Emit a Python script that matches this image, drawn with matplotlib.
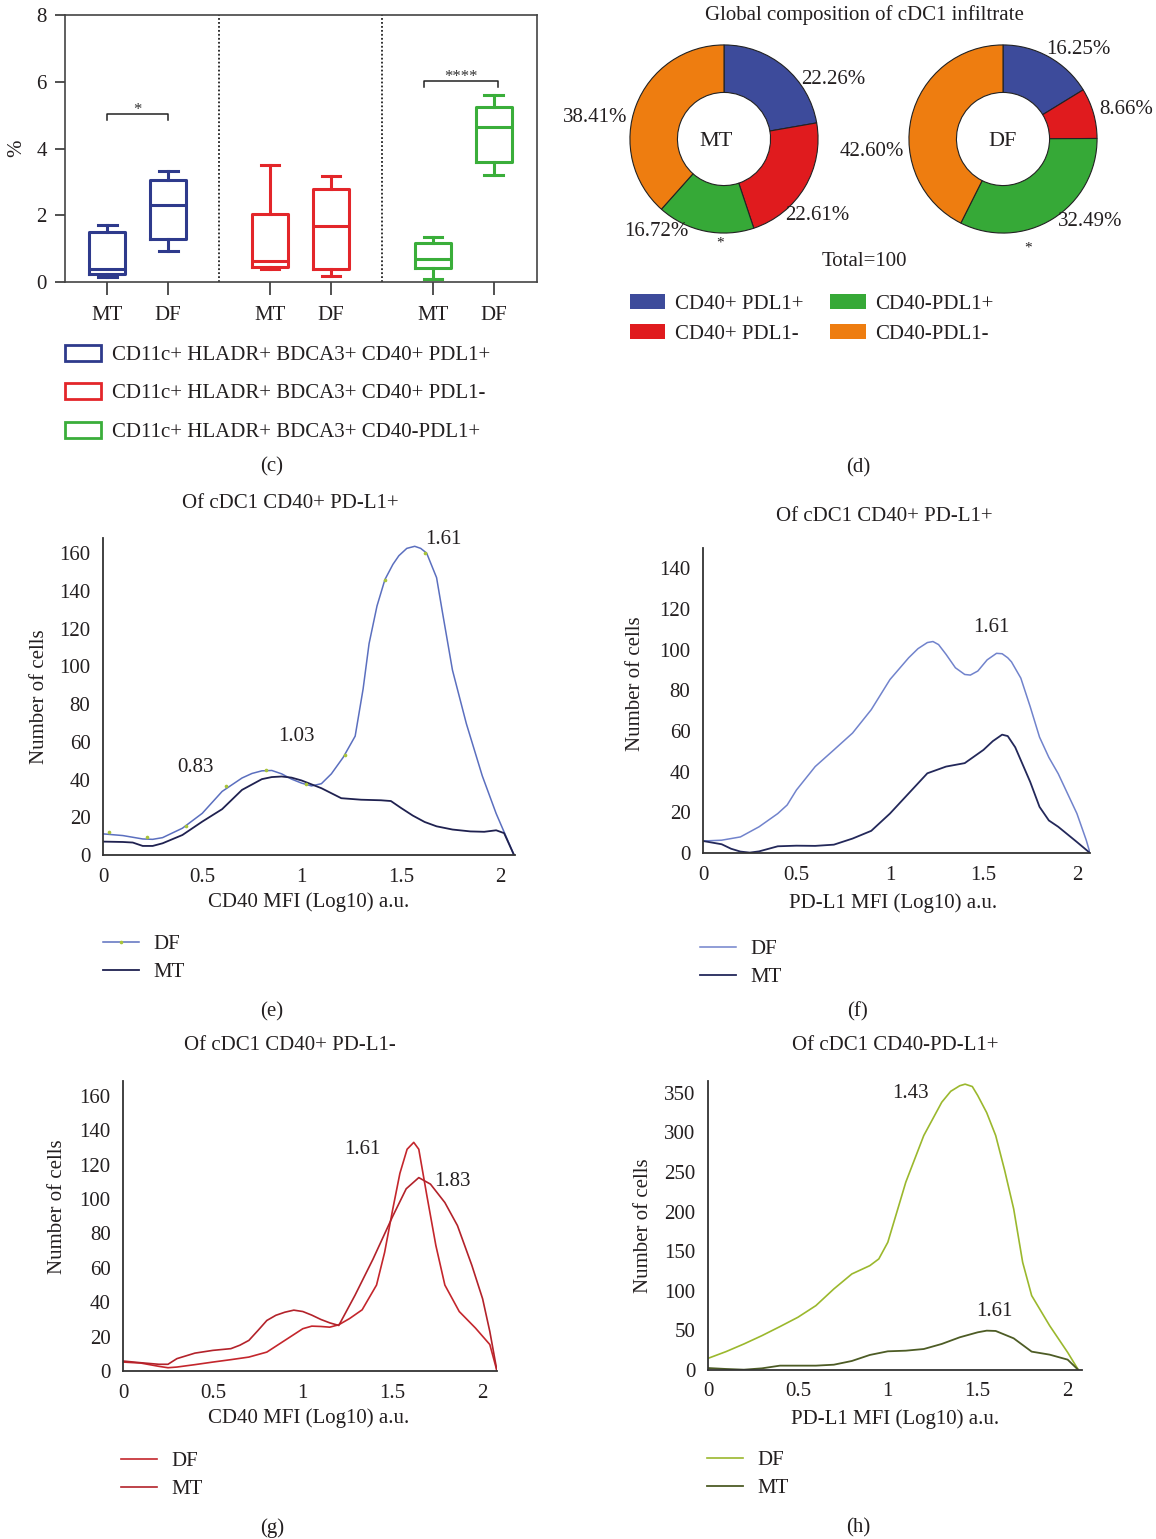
import numpy as np
import matplotlib.pyplot as plt
from matplotlib.patches import Patch
from matplotlib.lines import Line2D

W, H = 1156, 1539
plt.rcParams['font.family'] = ['Liberation Serif', 'DejaVu Serif']
plt.rcParams['font.size'] = 15
TXT = '#231f20'

# ---- (c) box plot data: whislo, q1, med, q3, whishi
box_labels = ['CD11c+ HLADR+ BDCA3+ CD40+ PDL1+',
              'CD11c+ HLADR+ BDCA3+ CD40+ PDL1-',
              'CD11c+ HLADR+ BDCA3+ CD40-PDL1+']
box_colors = ['#2e3a8c', '#e3262a', '#3aae3a']
box_mt = [[0.16, 0.23, 0.38, 1.50, 1.70],
          [0.38, 0.45, 0.63, 2.05, 3.50],
          [0.08, 0.42, 0.68, 1.16, 1.36]]
box_df = [[0.93, 1.30, 2.30, 3.07, 3.32],
          [0.18, 0.38, 1.68, 2.78, 3.18],
          [3.20, 3.60, 4.65, 5.25, 5.59]]
sig_group = [0, 2]
sig_text = ['*', '****']
sig_y = [5.02, 6.01]

# ---- (d) donut data
donut_names = ['MT', 'DF']
slice_labels = ['CD40+ PDL1+', 'CD40+ PDL1-', 'CD40-PDL1+', 'CD40-PDL1-']
slice_colors = ['#3d4b9b', '#e01b1e', '#36a937', '#ee7d10']
mt_share = [22.26, 22.61, 16.72, 38.41]
df_share = [16.25, 8.66, 32.49, 42.60]

# ---- (e) CD40 MFI, CD40+ PD-L1+
e_x_df = [0, 0.1, 0.2, 0.25, 0.3, 0.4, 0.5, 0.6, 0.7, 0.75, 0.8, 0.85, 0.9, 0.95, 1.0, 1.05, 1.1, 1.15,
          1.21, 1.27, 1.31, 1.34, 1.38, 1.42, 1.46, 1.49, 1.53, 1.57, 1.6, 1.63, 1.68, 1.71, 1.76, 1.83,
          1.91, 1.98, 2.07]
e_df = [11.2, 10.3, 8.5, 8.3, 9.2, 14.2, 22.1, 33.7, 40.8, 43.2, 44.6, 44.8, 43, 40.2, 38.1, 36.6, 37.8, 43,
        51.8, 63, 88, 112, 132, 146, 154, 158.6, 162.5, 163.6, 162.5, 160, 147, 128.4, 98, 69.6,
        42, 22, 0]
e_dot_x = [0.03, 0.22, 0.42, 0.62, 0.82, 1.02, 1.22, 1.42, 1.62]
e_dot_y = [12, 9.6, 15.5, 36.5, 45, 37.5, 53, 145.6, 160]
e_x_mt = [0, 0.1, 0.15, 0.2, 0.25, 0.3, 0.4, 0.5, 0.6, 0.7, 0.8, 0.85, 0.9, 0.95, 1.0, 1.1, 1.2, 1.3,
          1.4, 1.45, 1.5, 1.56, 1.62, 1.68, 1.76, 1.85, 1.92, 1.98, 2.02, 2.07]
e_mt = [7.1, 6.9, 6.6, 4.8, 4.8, 6.2, 10.6, 17.7, 24.3, 34.5, 40.2, 41.3, 41.6, 41, 39.5, 35.4, 30.1, 29.3,
        29, 28.6, 25, 20.9, 17.5, 15.2, 13.5, 12.5, 12.3, 13.1, 11.6, 0]

# ---- (f) PD-L1 MFI, CD40+ PD-L1+
f_x_df = [0, 0.1, 0.2, 0.3, 0.4, 0.45, 0.5, 0.6, 0.7, 0.8, 0.9, 1.0, 1.1, 1.15, 1.2, 1.23, 1.26, 1.3,
          1.35, 1.4, 1.43, 1.47, 1.52, 1.57, 1.6, 1.63, 1.65, 1.7, 1.75, 1.8, 1.85, 1.9, 2.0, 2.05, 2.07]
f_df = [5.9, 6.3, 7.9, 12.9, 19.4, 23.6, 31, 42.5, 50.7, 59, 70.5, 85.3, 96, 100.5, 103.5, 104, 102.5, 97.7,
        91.1, 87.8, 87.5, 89.5, 95, 98.2, 98, 96, 94, 86, 72, 57, 47, 39, 19.4, 6.3, 0]
f_x_mt = [0, 0.1, 0.15, 0.2, 0.25, 0.3, 0.4, 0.5, 0.6, 0.7, 0.8, 0.9, 1.0, 1.1, 1.2, 1.3, 1.4, 1.5,
          1.55, 1.6, 1.63, 1.67, 1.75, 1.8, 1.85, 1.9, 2.0, 2.07]
f_mt = [5.9, 4.3, 2.1, 0.7, 0.2, 0.8, 3.3, 3.6, 3.5, 4.1, 7.1, 10.9, 19.4, 29.3, 39.2, 42.5, 44.2, 50.7,
        55, 58.2, 57.5, 52, 35, 22.7, 16, 12.9, 5.4, 0]

# ---- (g) CD40 MFI, CD40+ PD-L1-
g_x_a = [0, 0.1, 0.2, 0.25, 0.3, 0.4, 0.5, 0.6, 0.7, 0.8, 0.9, 1.0, 1.05, 1.1, 1.15, 1.2, 1.26, 1.33,
         1.41, 1.455, 1.5, 1.54, 1.58, 1.617, 1.645, 1.69, 1.74, 1.79, 1.87, 1.96, 2.04, 2.08]
g_a = [5.2, 4.6, 2.7, 1.9, 2.3, 3.7, 5.2, 6.6, 8.1, 11, 17.8, 24.6, 26.1, 25.9, 25.5, 26.9, 30.5, 35.6,
       50, 69, 94, 115, 129, 133, 129, 102, 73, 50, 34.6, 25, 15.4, 0]
g_x_b = [0, 0.1, 0.2, 0.25, 0.3, 0.4, 0.5, 0.6, 0.65, 0.7, 0.75, 0.8, 0.85, 0.9, 0.95, 1.0, 1.05, 1.1,
         1.15, 1.2, 1.29, 1.39, 1.5, 1.575, 1.645, 1.71, 1.79, 1.86, 1.94, 2.0, 2.04, 2.08]
g_b = [5.8, 4.8, 3.9, 3.9, 7.2, 10.4, 12, 13, 15, 17.8, 23.5, 29.4, 32.4, 34.2, 35.4, 34.6, 32.5, 30,
       28, 26.5, 44, 65, 90, 106, 112.5, 108.7, 98, 84.6, 61.5, 42, 23, 0]

# ---- (h) PD-L1 MFI, CD40-PD-L1+
h_x_df = [0, 0.1, 0.2, 0.3, 0.4, 0.5, 0.6, 0.7, 0.8, 0.9, 0.95, 1.0, 1.05, 1.1, 1.2, 1.3, 1.35, 1.4,
          1.43, 1.47, 1.5, 1.55, 1.6, 1.65, 1.7, 1.75, 1.8, 1.9, 2.0, 2.06]
h_df = [14.7, 23.2, 32.9, 43.4, 54.8, 66.6, 81.3, 102.4, 121.3, 131.8, 140.3, 161.3, 199.2, 237.2, 296.1,
        338.2, 352, 359, 361, 358, 346.7, 325, 296.1, 252, 203.5, 136, 94, 56, 22.3, 0]
h_x_mt = [0, 0.1, 0.2, 0.3, 0.4, 0.5, 0.6, 0.7, 0.8, 0.9, 1.0, 1.1, 1.2, 1.3, 1.4, 1.5, 1.55, 1.6,
          1.7, 1.8, 1.9, 2.0, 2.06]
h_mt = [2.5, 1.3, 0.4, 2.1, 5.5, 5.5, 5.5, 6.7, 11.4, 19, 23.6, 24.4, 26.5, 32.9, 41.3, 47.6, 49.7, 49.3,
        40, 23.2, 19.4, 13.1, 0]


def px(x, y):
    return x / W, 1 - y / H


def add_ax(fig, l, t, r, b):
    return fig.add_axes([l / W, 1 - b / H, (r - l) / W, (b - t) / H])


def ftext(fig, x, y, s, **kw):
    kw.setdefault('ha', 'center')
    kw.setdefault('va', 'center')
    kw.setdefault('color', TXT)
    fig.text(*px(x, y), s, **kw)


fig = plt.figure(figsize=(W / 100, H / 100), dpi=100)

# ================= (c) =================
ax = add_ax(fig, 65, 15, 537, 282)
gap = 2.672
stats, pos, cols = [], [], []
for i in range(3):
    for j, row in enumerate([box_mt[i], box_df[i]]):
        lo, q1, med, q3, hi = row
        stats.append(dict(whislo=lo, q1=q1, med=med, q3=q3, whishi=hi, fliers=[]))
        pos.append(1 + j + i * gap)
        cols.append(box_colors[i])
for k in range(len(stats)):
    c = cols[k]
    ax.bxp([stats[k]], positions=[pos[k]], widths=0.59, capwidths=0.31, showfliers=False,
           boxprops=dict(color=c, lw=2.2), whiskerprops=dict(color=c, lw=2.2),
           capprops=dict(color=c, lw=2.2), medianprops=dict(color=c, lw=2.2))
ax.set_xlim(0.31, 8.05)
ax.set_ylim(0, 8)
ax.set_xticks(pos)
ax.set_xticklabels(['MT', 'DF'] * 3, color=TXT)
ax.set_yticks([0, 2, 4, 6, 8])
ax.tick_params(axis='x', length=9, width=1.2, color='#333', pad=8, labelsize=15)
ax.tick_params(axis='y', length=7, width=1.2, color='#333', pad=6, labelsize=15, labelcolor=TXT)
for s in ax.spines.values():
    s.set_color('#444')
    s.set_linewidth(1.2)
for i in range(1, 3):
    ax.axvline(1 + (i - 1) * gap + 1.84, color='#222', ls=(0, (1, 1.2)), lw=1.3)
for g, t, y in zip(sig_group, sig_text, sig_y):
    x0 = 1 + g * gap - (0.15 if g == 2 else 0)
    x1 = 2 + g * gap + (0.07 if g == 2 else 0)
    ax.plot([x0, x0, x1, x1], [y - 0.16, y, y, y - 0.16], color='#222', lw=1.1)
    ax.text((x0 + x1) / 2, y + 0.02, t, ha='center', va='baseline', fontsize=12, color='#333')
ftext(fig, 17, 148, '%', rotation=90)
handles = [Patch(facecolor='white', edgecolor=c, lw=2) for c in box_colors]
fig.legend(handles, box_labels, loc='upper left', bbox_to_anchor=px(46, 326), frameon=False,
           handlelength=1.75, handleheight=0.8, handletextpad=0.5, labelspacing=0.88,
           fontsize=15, labelcolor=TXT)
ftext(fig, 272, 467, '(c)')

# ================= (d) =================
centers = [(724, 139), (1003, 139)]
r = 95
for name, share, (cx, cy) in zip(donut_names, [mt_share, df_share], centers):
    dax = add_ax(fig, cx - r, cy - r, cx + r, cy + r)
    dax.pie(share, colors=slice_colors, startangle=90, counterclock=False, radius=1,
            wedgeprops=dict(width=0.505, edgecolor='#222', linewidth=0.8))
    dax.set_xlim(-1.01, 1.01)
    dax.set_ylim(-1.01, 1.01)
    dax.set_aspect('equal')
    dax.axis('off')
    ftext(fig, cx - (8 if name == 'MT' else 0), cy + 2, name, fontsize=16)

mt_lbl_pos = [(833, 80), (817, 216), (656, 231), (595, 117)]
df_lbl_pos = [(1078, 50), (1126, 110), (1090, 221), (872, 152)]
for share, lp in zip([mt_share, df_share], [mt_lbl_pos, df_lbl_pos]):
    for v, (x, y) in zip(share, lp):
        ftext(fig, x, y, f'{v:.2f}%', fontsize=15)
ftext(fig, 720, 243, '*', fontsize=11)
ftext(fig, 1028, 248, '*', fontsize=11)
ftext(fig, 864, 15, 'Global composition of cDC1 infiltrate', fontsize=15)
ftext(fig, 864, 261, 'Total=100', fontsize=15)
handles = [Patch(facecolor=c, edgecolor='none') for c in slice_colors]
fig.legend(handles, slice_labels, ncol=2, loc='upper left', bbox_to_anchor=px(611, 275), frameon=False,
           handlelength=1.7, handleheight=0.75, handletextpad=0.45, labelspacing=0.5,
           columnspacing=1.3, fontsize=15, labelcolor=TXT)
ftext(fig, 858, 468, '(d)')


# ================= curves =================
def curve_ax(box, ymax, yticks, xmax):
    a = add_ax(fig, *box)
    a.set_xlim(0, xmax)
    a.set_ylim(0, ymax)
    a.set_xticks([0, 0.5, 1, 1.5, 2])
    a.set_xticklabels(['0', '0.5', '1', '1.5', '2'])
    a.set_yticks(yticks)
    a.tick_params(length=0, pad=9, labelsize=15, labelcolor=TXT)
    for s in ['top', 'right']:
        a.spines[s].set_visible(False)
    for s in ['left', 'bottom']:
        a.spines[s].set_color('#333')
        a.spines[s].set_linewidth(1.3)
    return a


def line_legend(x, y, handles):
    fig.legend(handles, ['DF', 'MT'], loc='upper left', bbox_to_anchor=px(x, y), frameon=False,
               handlelength=1.75, handletextpad=0.7, labelspacing=0.4, fontsize=15,
               labelcolor=TXT, numpoints=1)


# (e)
ax = curve_ax((103, 538, 515, 855), 168, range(0, 161, 20), 2.075)
ax.plot(e_x_df, e_df, color='#5b6fbf', lw=1.1)
ax.plot(e_x_mt, e_mt, color='#1f2150', lw=1.3)
ax.plot(e_dot_x, e_dot_y, 'o', ms=1.6, color='#a8c43a', zorder=5)
ftext(fig, 290, 503, 'Of cDC1 CD40+ PD-L1+')
ftext(fig, 309, 902, 'CD40 MFI (Log10) a.u.')
ftext(fig, 40, 697, 'Number of cells', rotation=90)
ftext(fig, 443, 539, '1.61')
ftext(fig, 296, 737, '1.03')
ftext(fig, 195, 767, '0.83')
line_legend(84, 916, [Line2D([], [], color='#5b6fbf', lw=1.1, marker='o', ms=1.6,
                             mfc='#a8c43a', mec='#a8c43a'),
                      Line2D([], [], color='#1f2150', lw=1.3)])
ftext(fig, 272, 1012, '(e)')

# (f)
ax = curve_ax((703, 548, 1090, 853), 150, range(0, 141, 20), 2.07)
ax.plot(f_x_df, f_df, color='#7183cc', lw=1.1)
ax.plot(f_x_mt, f_mt, color='#23285a', lw=1.3)
ftext(fig, 884, 517, 'Of cDC1 CD40+ PD-L1+')
ftext(fig, 893, 903, 'PD-L1 MFI (Log10) a.u.')
ftext(fig, 636, 684, 'Number of cells', rotation=90)
ftext(fig, 991, 627, '1.61')
line_legend(681, 921, [Line2D([], [], color='#7183cc', lw=1.1),
                       Line2D([], [], color='#23285a', lw=1.3)])
ftext(fig, 858, 1012, '(f)')

# (g)
ax = curve_ax((123, 1081, 497, 1371), 168.7, range(0, 161, 20), 2.08)
ax.plot(g_x_a, g_a, color='#c4262c', lw=1.2)
ax.plot(g_x_b, g_b, color='#b3222a', lw=1.2)
ftext(fig, 290, 1046, 'Of cDC1 CD40+ PD-L1-')
ftext(fig, 309, 1418, 'CD40 MFI (Log10) a.u.')
ftext(fig, 57, 1207, 'Number of cells', rotation=90)
ftext(fig, 362, 1149, '1.61')
ftext(fig, 452, 1181, '1.83')
line_legend(102, 1433, [Line2D([], [], color='#c4262c', lw=1.2),
                        Line2D([], [], color='#b3222a', lw=1.2)])
ftext(fig, 272, 1528, '(g)')

# (h)
ax = curve_ax((708, 1081, 1082, 1370), 365, range(0, 351, 50), 2.08)
ax.plot(h_x_df, h_df, color='#9bb82d', lw=1.2)
ax.plot(h_x_mt, h_mt, color='#4d5c25', lw=1.3)
ftext(fig, 895, 1046, 'Of cDC1 CD40-PD-L1+')
ftext(fig, 895, 1419, 'PD-L1 MFI (Log10) a.u.')
ftext(fig, 643, 1226, 'Number of cells', rotation=90)
ftext(fig, 910, 1094, '1.43')
ftext(fig, 994, 1312, '1.61')
line_legend(688, 1432, [Line2D([], [], color='#9bb82d', lw=1.2),
                        Line2D([], [], color='#4d5c25', lw=1.3)])
ftext(fig, 858, 1528, '(h)')

fig.savefig('out.png', dpi=100)
